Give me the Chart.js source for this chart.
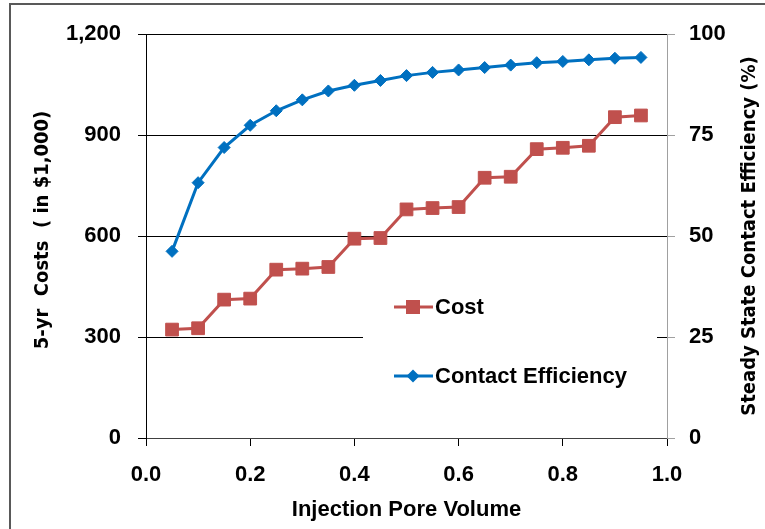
<!DOCTYPE html>
<html>
<head>
<meta charset="utf-8">
<script src="https://cdn.jsdelivr.net/npm/chart.js@4/dist/chart.umd.min.js"></script>
<style>
  html, body { margin: 0; padding: 0; background: #fff; }
  #wrap { width: 765px; height: 529px; position: relative; }
</style>
</head>
<body>
<div id="wrap"><canvas id="chart" width="765" height="529"></canvas></div>
<script>
// values
const poreVolume = [0.05, 0.10, 0.15, 0.20, 0.25, 0.30, 0.35, 0.40, 0.45, 0.50,
                    0.55, 0.60, 0.65, 0.70, 0.75, 0.80, 0.85, 0.90, 0.95];
const costs = [322, 326, 411, 414, 500, 503, 508, 592, 594, 679,
               683, 686, 773, 776, 858, 862, 868, 953, 958];
const contactEff = [46.2, 63.2, 71.9, 77.4, 81.0, 83.7, 85.9, 87.3, 88.5, 89.7,
                    90.5, 91.1, 91.7, 92.3, 92.9, 93.2, 93.6, 94.0, 94.2];
const seriesNames = ['Cost', 'Contact Efficiency'];
const xTitle = 'Injection Pore Volume';
const yTitle = '5-yr  Costs  ( in $1,000)';
const y1Title = 'Steady State Contact Efficiency (%)';

const RED = '#C0504D';
const BLUE = '#0070C0';
const TITLE_FONT = '"DejaVu Sans Condensed", "DejaVu Sans", sans-serif';

Chart.defaults.font.family = '"Liberation Sans", Arial, sans-serif';
Chart.defaults.font.size = 22;
Chart.defaults.font.weight = 'bold';
Chart.defaults.color = '#000';

const pairs = (ys) => poreVolume.map((x, i) => ({ x, y: ys[i] }));

// frame lines of the original picture
const frame = {
  id: 'frame',
  beforeDraw(chart) {
    const ctx = chart.ctx;
    ctx.save();
    ctx.fillStyle = '#fff';
    ctx.fillRect(0, 0, chart.width, chart.height);
    ctx.strokeStyle = '#595959';
    ctx.lineWidth = 2;
    ctx.beginPath();
    ctx.moveTo(10, chart.height);
    ctx.lineTo(10, 4);
    ctx.lineTo(chart.width, 4);
    ctx.stroke();
    ctx.restore();
  }
};

function marker(ctx, style, x, y, color) {
  ctx.fillStyle = color;
  ctx.beginPath();
  if (style === 'rect') {
    ctx.rect(x - 7, y - 7, 14, 14);
  } else {
    ctx.moveTo(x - 6.5, y);
    ctx.lineTo(x, y - 6.5);
    ctx.lineTo(x + 6.5, y);
    ctx.lineTo(x, y + 6.5);
    ctx.closePath();
  }
  ctx.fill();
}

// legend sits inside the plot on a white box
const insideLegend = {
  id: 'insideLegend',
  afterDatasetsDraw(chart) {
    const ctx = chart.ctx;
    const a = chart.chartArea;
    const bx = a.left + 217, by = a.top + 250;
    ctx.save();
    ctx.fillStyle = '#fff';
    ctx.fillRect(bx, by, 294, 116);
    chart.data.datasets.forEach((ds, i) => {
      const cy = by + 23 + i * 69;
      ctx.strokeStyle = ds.borderColor;
      ctx.lineWidth = 3;
      ctx.beginPath();
      ctx.moveTo(bx + 31, cy);
      ctx.lineTo(bx + 70, cy);
      ctx.stroke();
      marker(ctx, ds.pointStyle, bx + 50, cy, ds.pointBackgroundColor);
      ctx.fillStyle = '#000';
      ctx.font = 'bold 22px "Liberation Sans", Arial, sans-serif';
      ctx.textBaseline = 'middle';
      ctx.textAlign = 'left';
      ctx.fillText(ds.label, bx + 72, cy + 1);
    });
    ctx.restore();
  }
};

// both value-axis titles read bottom to top
function sideTitle(ctx, text, x, y) {
  ctx.save();
  ctx.translate(x, y);
  ctx.rotate(-Math.PI / 2);
  ctx.font = 'bold 20px ' + TITLE_FONT;
  ctx.fillStyle = '#000';
  ctx.textAlign = 'center';
  ctx.textBaseline = 'middle';
  ctx.fillText(text, 0, 0);
  ctx.restore();
}

const axisTitles = {
  id: 'axisTitles',
  afterDraw(chart) {
    const a = chart.chartArea;
    const mid = (a.top + a.bottom) / 2;
    sideTitle(chart.ctx, yTitle, 43, mid - 6);
    sideTitle(chart.ctx, y1Title, 750, mid);
  }
};

new Chart(document.getElementById('chart'), {
  type: 'line',
  data: {
    datasets: [
      {
        label: seriesNames[0],
        data: pairs(costs),
        yAxisID: 'y',
        borderColor: RED,
        backgroundColor: RED,
        pointBackgroundColor: RED,
        pointBorderColor: RED,
        pointStyle: 'rect',
        pointRadius: 9,
        pointBorderWidth: 1,
        borderWidth: 3,
        tension: 0
      },
      {
        label: seriesNames[1],
        data: pairs(contactEff),
        yAxisID: 'y1',
        borderColor: BLUE,
        backgroundColor: BLUE,
        pointBackgroundColor: BLUE,
        pointBorderColor: BLUE,
        pointStyle: 'rectRot',
        pointRadius: 6,
        pointBorderWidth: 1,
        borderWidth: 3,
        tension: 0
      }
    ]
  },
  options: {
    responsive: false,
    animation: false,
    layout: { padding: { top: 34, left: 0, right: 0, bottom: 0 } },
    plugins: { legend: { display: false }, tooltip: { enabled: false } },
    scales: {
      x: {
        type: 'linear',
        min: 0, max: 1,
        ticks: { stepSize: 0.2, padding: 16, callback: v => v.toFixed(1) },
        grid: { drawOnChartArea: false, tickLength: 8, tickColor: '#000' },
        border: { color: '#404040', width: 1 },
        title: { display: true, text: xTitle, padding: { top: 0, bottom: 6 }, font: { size: 22, weight: 'bold' } },
        afterFit: s => { s.height = 91; }
      },
      y: {
        position: 'left',
        min: 0, max: 1200,
        ticks: { stepSize: 300, padding: 17, callback: v => v.toLocaleString('en-US') },
        grid: { color: '#000', tickColor: '#000', tickLength: 8, lineWidth: 1 },
        border: { color: '#000', width: 1 },
        afterFit: s => { s.width = 146; }
      },
      y1: {
        position: 'right',
        min: 0, max: 100,
        ticks: { stepSize: 25, padding: 14 },
        grid: { drawOnChartArea: false, tickColor: '#a0a0a0', tickLength: 8 },
        border: { color: '#a0a0a0', width: 1 },
        afterFit: s => { s.width = 98; }
      }
    }
  },
  plugins: [frame, insideLegend, axisTitles]
});
</script>
</body>
</html>
